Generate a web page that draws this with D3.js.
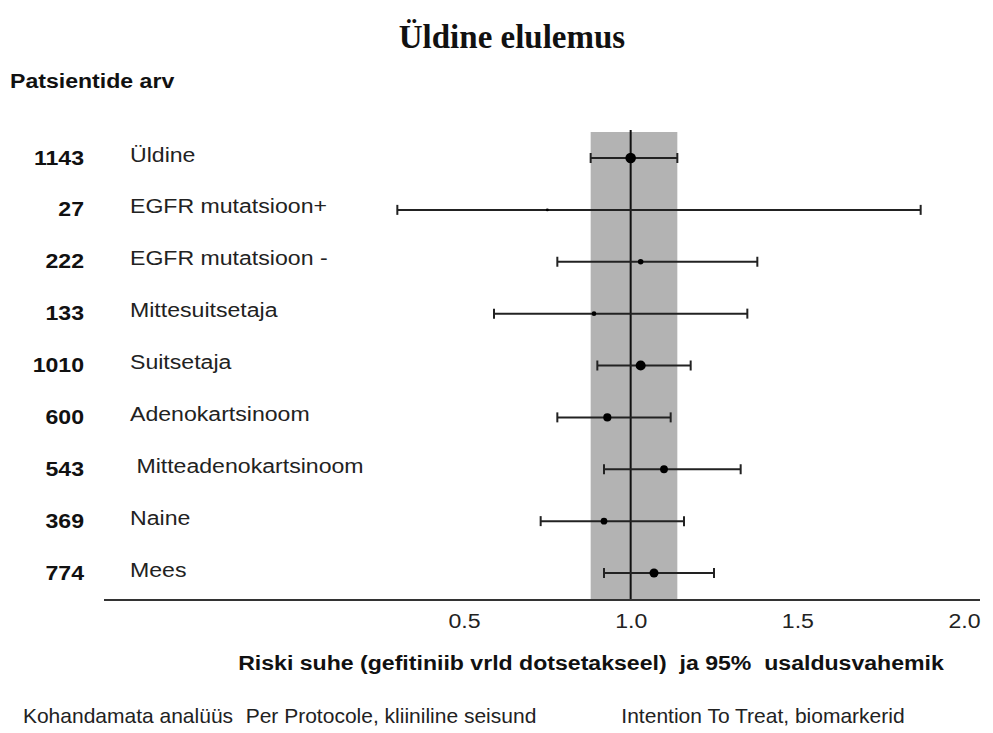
<!DOCTYPE html>
<html>
<head>
<meta charset="utf-8">
<script src="https://cdn.jsdelivr.net/npm/d3@7"></script>
<style>
  html, body { margin: 0; padding: 0; background: #fff; }
  svg { display: block; }
</style>
</head>
<body>
<div id="chart"></div>
<script>
// Forest plot: overall survival, hazard ratio with 95% CI per subgroup

const groups = [
  "Üldine",
  "EGFR mutatsioon+",
  "EGFR mutatsioon -",
  "Mittesuitsetaja",
  "Suitsetaja",
  "Adenokartsinoom",
  " Mitteadenokartsinoom",
  "Naine",
  "Mees",
];
const patients = [1143, 27, 222, 133, 1010, 600, 543, 369, 774];
const hr = [1.0, 0.75, 1.03, 0.89, 1.03, 0.93, 1.1, 0.92, 1.07];
const lower = [0.88, 0.3, 0.78, 0.59, 0.9, 0.78, 0.92, 0.73, 0.92];
const upper = [1.14, 1.87, 1.38, 1.35, 1.18, 1.12, 1.33, 1.16, 1.25];
const xTicks = [0.5, 1.0, 1.5, 2.0];
const footLabels = [
  "Kohandamata analüüs",
  "Per Protocole, kliiniline seisund",
  "Intention To Treat, biomarkerid",
];

const width = 993;
const height = 733;
const sans = "'Liberation Sans', Arial, sans-serif";
const fs = 21;
const stretch = "scale(1.1,1)"; // source text is a bit wider than Arial

// footer caption centres
const footCenters = [128, 391, 763];

const rows = groups.map((g, i) => ({
  name: g,
  n: patients[i],
  hr: hr[i],
  lo: lower[i],
  hi: upper[i],
}));

const svg = d3
  .select("#chart")
  .append("svg")
  .attr("width", width)
  .attr("height", height)
  .attr("viewBox", [0, 0, width, height]);

// scales
const x = d3.scaleLinear().domain([0.5, 2]).range([464, 964]);
const y = d3.scalePoint().domain(groups).range([158, 573]);
const r = d3.scaleSqrt().domain([0, d3.max(patients)]).range([0.8, 5.3]);

const axisY = 600;
const plotTop = 131;
const baseLeft = 104;
const baseRight = 980;

// shaded band = overall CI
svg
  .append("rect")
  .attr("x", x(rows[0].lo))
  .attr("y", plotTop + 1)
  .attr("width", x(rows[0].hi) - x(rows[0].lo))
  .attr("height", axisY - plotTop - 1)
  .attr("fill", "#b3b3b3");

// reference line at HR = 1
svg
  .append("line")
  .attr("x1", x(1))
  .attr("x2", x(1))
  .attr("y1", plotTop - 1)
  .attr("y2", axisY)
  .attr("stroke", "#111")
  .attr("stroke-width", 2);

// x axis
const gx = svg
  .append("g")
  .attr("transform", "translate(0," + axisY + ")")
  .call(
    d3
      .axisBottom(x)
      .tickValues(xTicks)
      .tickFormat(d3.format(".1f"))
      .tickSize(0)
      .tickPadding(13)
  );
gx.select(".domain").remove();
gx.selectAll("text")
  .attr("font-family", sans)
  .attr("font-size", fs + "px")
  .attr("fill", "#222")
  .attr("transform", stretch);

svg
  .append("line")
  .attr("x1", baseLeft)
  .attr("x2", baseRight)
  .attr("y1", axisY)
  .attr("y2", axisY)
  .attr("stroke", "#333")
  .attr("stroke-width", 2);

// whiskers
const row = svg
  .append("g")
  .selectAll("g")
  .data(rows)
  .join("g")
  .attr("transform", (d) => "translate(0," + y(d.name) + ")");

row
  .append("line")
  .attr("x1", (d) => x(d.lo))
  .attr("x2", (d) => x(d.hi))
  .attr("stroke", "#222")
  .attr("stroke-width", 2);

row
  .selectAll(".cap")
  .data((d) => [d.lo, d.hi])
  .join("line")
  .attr("class", "cap")
  .attr("x1", (v) => x(v))
  .attr("x2", (v) => x(v))
  .attr("y1", -5)
  .attr("y2", 5)
  .attr("stroke", "#222")
  .attr("stroke-width", 2);

row
  .append("circle")
  .attr("cx", (d) => x(d.hr))
  .attr("r", (d) => r(d.n))
  .attr("fill", "#000");

// left labels
row
  .append("text")
  .attr("transform", "translate(84,1) " + stretch)
  .attr("text-anchor", "end")
  .attr("dominant-baseline", "middle")
  .attr("font-family", sans)
  .attr("font-weight", "700")
  .attr("font-size", fs + "px")
  .attr("fill", "#111")
  .text((d) => d.n);

row
  .append("text")
  .attr("transform", "translate(130,-2) " + stretch)
  .attr("dominant-baseline", "middle")
  .attr("font-family", sans)
  .attr("font-size", fs + "px")
  .attr("fill", "#222")
  .style("white-space", "pre")
  .text((d) => d.name);

// title and headings
svg
  .append("text")
  .attr("x", 512)
  .attr("y", 48)
  .attr("text-anchor", "middle")
  .attr("font-family", "'Liberation Serif', 'Times New Roman', serif")
  .attr("font-weight", "700")
  .attr("font-size", "33px")
  .attr("fill", "#111")
  .text("Üldine elulemus");

svg
  .append("text")
  .attr("transform", "translate(10,88) " + stretch)
  .attr("font-family", sans)
  .attr("font-weight", "700")
  .attr("font-size", fs + "px")
  .attr("fill", "#111")
  .text("Patsientide arv");

svg
  .append("text")
  .attr("transform", "translate(591,670) " + stretch)
  .attr("text-anchor", "middle")
  .attr("font-family", sans)
  .attr("font-weight", "700")
  .attr("font-size", fs + "px")
  .attr("fill", "#111")
  .style("white-space", "pre")
  .text("Riski suhe (gefitiniib vrld dotsetakseel)  ja 95%  usaldusvahemik");

// footer captions
svg
  .append("g")
  .selectAll("text")
  .data(footLabels)
  .join("text")
  .attr("x", (d, i) => footCenters[i])
  .attr("y", 723)
  .attr("text-anchor", "middle")
  .attr("font-family", sans)
  .attr("font-size", fs + "px")
  .attr("fill", "#222")
  .text((d) => d);
</script>
</body>
</html>
